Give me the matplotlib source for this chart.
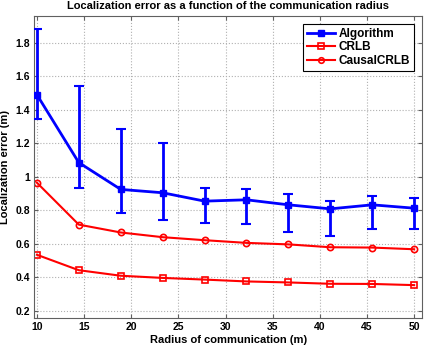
import numpy as np
import matplotlib
matplotlib.use("Agg")
import matplotlib.pyplot as plt
from matplotlib.ticker import FuncFormatter
from matplotlib.lines import Line2D

plt.rcParams['font.family'] = ['Liberation Sans', 'DejaVu Sans']
plt.rcParams['font.weight'] = 'bold'

# data
radius = [10, 14.44, 18.89, 23.33, 27.78, 32.22, 36.67, 41.11, 45.56, 50]
algo = [1.49, 1.085, 0.925, 0.905, 0.855, 0.863, 0.833, 0.809, 0.833, 0.813]
algo_top = [1.88, 1.54, 1.285, 1.20, 0.935, 0.927, 0.900, 0.853, 0.888, 0.875]
algo_bot = [1.345, 0.935, 0.785, 0.745, 0.725, 0.719, 0.672, 0.648, 0.690, 0.691]
crlb = [0.535, 0.443, 0.410, 0.397, 0.387, 0.376, 0.370, 0.362, 0.361, 0.354]
causal_crlb = [0.965, 0.715, 0.668, 0.640, 0.622, 0.606, 0.597, 0.580, 0.578, 0.568]

algo = np.array(algo)
yerr = [algo - np.array(algo_bot), np.array(algo_top) - algo]

fig = plt.figure(figsize=(4.37, 3.46), dpi=100)
ax = fig.add_axes([0.078, 0.081, 0.888, 0.873])

ax.errorbar(radius, algo, yerr=yerr, color='#0000ff', lw=2, marker='s', ms=5,
            capsize=3.5, capthick=1.5, elinewidth=2, zorder=3)
ax.plot(radius, crlb, color='#ff0000', lw=1.5, marker='s', ms=4.5, mfc='none',
        mew=1.2)
ax.plot(radius, causal_crlb, color='#ff0000', lw=1.5, marker='o', ms=4.5, mfc='none',
        mew=1.2)

ax.set_xlim(9.7, 50.85)
ax.set_ylim(0.158, 1.96)
ax.set_xticks(np.arange(10, 51, 5))
ax.set_yticks(np.arange(0.2, 1.81, 0.2))
ax.yaxis.set_major_formatter(FuncFormatter(lambda v, p: '%g' % round(v, 2)))

ax.grid(True, linestyle=':', color='#b0b0b0', lw=0.8)
ax.tick_params(direction='in', top=True, right=True, labelsize=7.5, length=3,
               color='#606060', width=0.8, pad=3)
for s in ax.spines.values():
    s.set_color('#606060')
    s.set_linewidth(0.8)

ax.set_title('Localization error as a function of the communication radius',
             fontsize=8, fontweight='bold', pad=5)
ax.set_xlabel('Radius of communication (m)', fontsize=8, fontweight='bold', labelpad=2)
ax.set_ylabel('Localization error (m)', fontsize=8, fontweight='bold', labelpad=4)

handles = [
    Line2D([], [], color='#0000ff', lw=2, marker='s', ms=4),
    Line2D([], [], color='#ff0000', lw=1.5, marker='s', ms=4, mfc='none', mew=1.2),
    Line2D([], [], color='#ff0000', lw=1.5, marker='o', ms=4, mfc='none', mew=1.2),
]
leg = ax.legend(handles, ['Algorithm', 'CRLB', 'CausalCRLB'], loc='upper right',
                fontsize=8.5, fancybox=False, framealpha=1,
                edgecolor='black', borderpad=0.3, handlelength=2.4,
                handletextpad=0.3, labelspacing=0.15, borderaxespad=0.7)
leg.get_frame().set_linewidth(0.8)

fig.savefig('out.png', dpi=100)
